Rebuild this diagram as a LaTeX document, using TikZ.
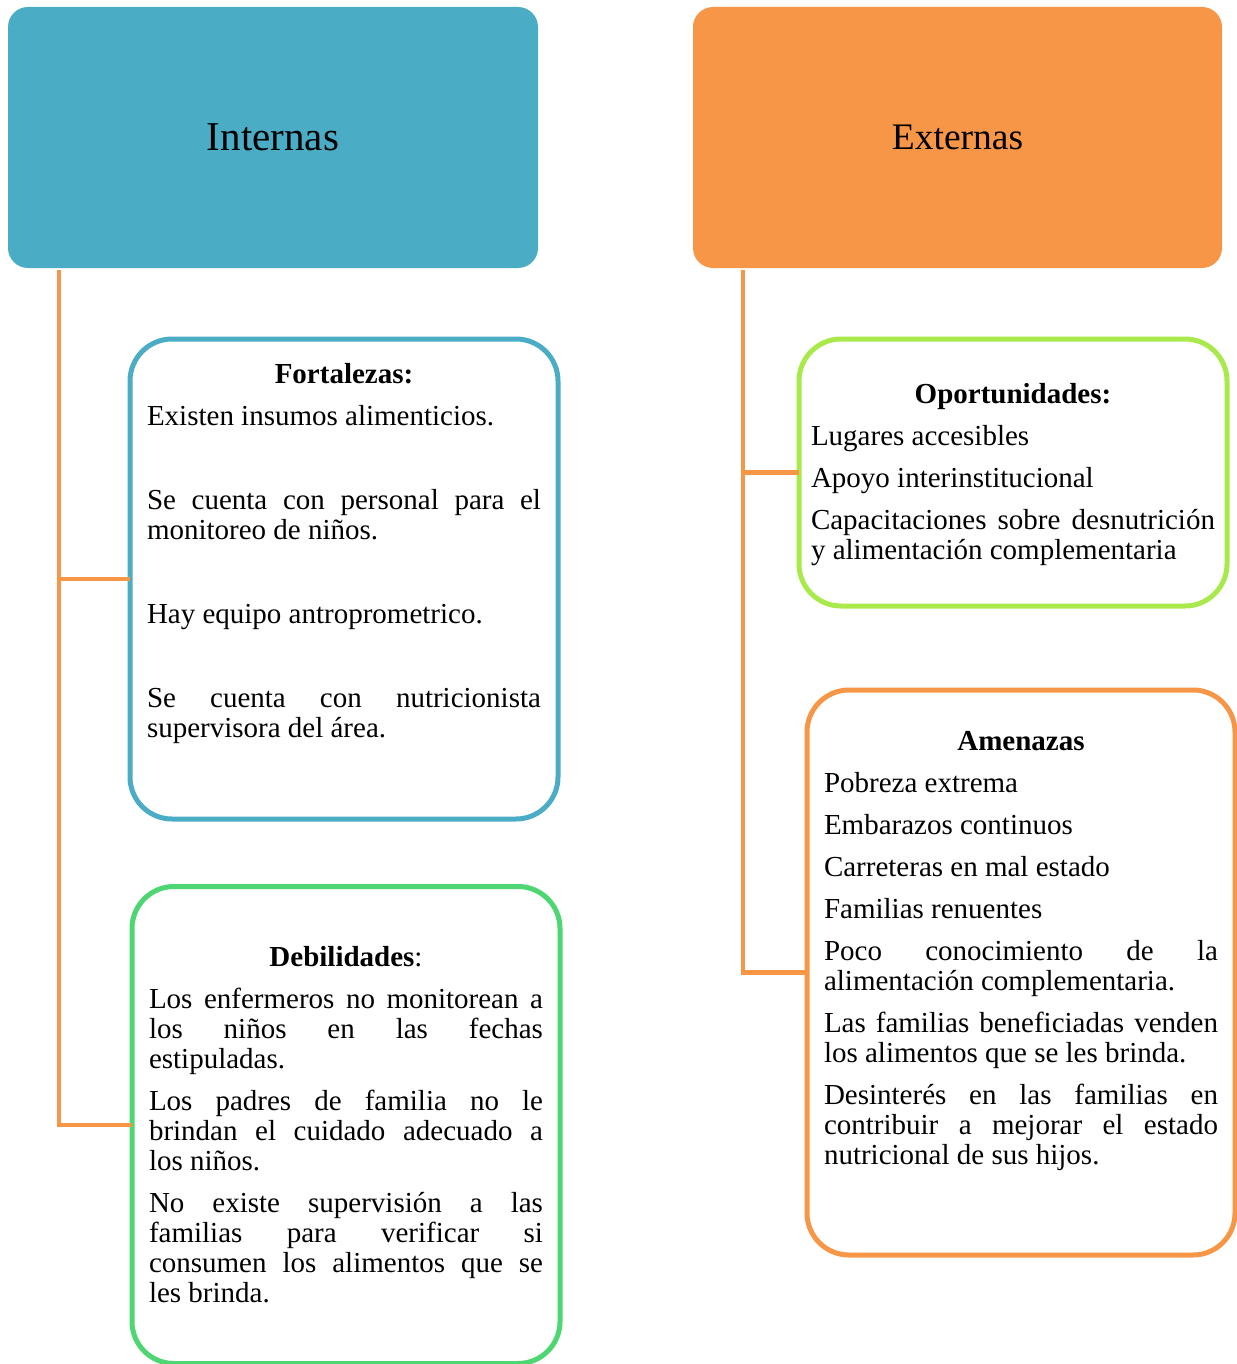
\documentclass[tikz,border=0pt]{standalone}
\usepackage{fontspec}
\setmainfont{Liberation Serif}
\hyphenpenalty=10000
\exhyphenpenalty=10000
\begin{document}
\begin{tikzpicture}[x=1pt,y=-1pt,line cap=rect,
  titulo/.style={rounded corners=20, inner sep=0, outer sep=0, font=\fontsize{37.5pt}{40pt}\selectfont},
  cuadro/.style={rounded corners=42, line width=5pt, inner sep=0, outer sep=0},
  texto/.style={inner sep=0, outer sep=0, anchor=base west, align=justify, text width=394pt,
    font=\fontsize{29pt}{30pt}\selectfont, execute at begin node={\setlength{\parskip}{12pt}}},
  rama/.style={line width=4.5pt, custcol_f7_96_46, line cap=butt}]
\useasboundingbox (0,0) rectangle (1236,1364);
\definecolor{custcol_4b_ac_c6}{RGB}{75, 172, 198}
\definecolor{custcol_f7_96_46}{RGB}{247, 150, 70}
\definecolor{custcol_4d_d6_72}{RGB}{77, 214, 114}
\definecolor{custcol_a9_e9_4b}{RGB}{169, 233, 75}
% cabeceras
\node[titulo, fill=custcol_4b_ac_c6, minimum width=530, minimum height=261, font=\fontsize{41pt}{44pt}\selectfont] (internas) at (273,137.5) {Internas};
\node[titulo, fill=custcol_f7_96_46, minimum width=529, minimum height=261] (externas) at (957.5,137.5) {Externas};
% cuadros
\node[cuadro, draw=custcol_4b_ac_c6, minimum width=428, minimum height=480] (fort) at (344,579) {};
\node[cuadro, draw=custcol_4d_d6_72, minimum width=428, minimum height=477] (deb) at (346,1125) {};
\node[cuadro, draw=custcol_a9_e9_4b, minimum width=428, minimum height=267] (oport) at (1013,472.5) {};
\node[cuadro, draw=custcol_f7_96_46, minimum width=428, minimum height=565] (amen) at (1021,972.5) {};
% conectores
\coordinate (intRaiz) at (59,270);
\coordinate (extRaiz) at (743,270);
\draw[rama] (intRaiz) |- (deb.west);
\draw[rama] (intRaiz |- fort.west) -- (fort.west);
\draw[rama] (extRaiz) |- (amen.west);
\draw[rama] (extRaiz |- oport.west) -- (oport.west);
% textos
\node[texto] (fortTxt) at (147,383) {{\centering\textbf{Fortalezas:}\par}
Existen insumos alimenticios.\par\mbox{}\par
Se cuenta con personal para el\linebreak monitoreo de niños.\par\mbox{}\par
Hay equipo antroprometrico.\par\mbox{}\par
Se cuenta con nutricionista\linebreak supervisora del área.};
\node[texto] (debTxt) at (149,966) {{\centering\textbf{Debilidades}:\par}
Los enfermeros no monitorean a\linebreak los niños en las fechas\linebreak estipuladas.\par
Los padres de familia no le\linebreak brindan el cuidado adecuado a\linebreak los niños.\par
No existe supervisión a las\linebreak familias para verificar si\linebreak consumen los alimentos que se\linebreak les brinda.};
\node[texto, text width=404pt] (oportTxt) at (811,403) {{\centering\textbf{Oportunidades:}\par}
Lugares accesibles\par
Apoyo interinstitucional\par
Capacitaciones sobre desnutrición\linebreak y alimentación complementaria};
\node[texto] (amenTxt) at (824,750) {{\centering\textbf{Amenazas}\par}
Pobreza extrema\par
Embarazos continuos\par
Carreteras en mal estado\par
Familias renuentes\par
Poco conocimiento de la\linebreak alimentación complementaria.\par
Las familias beneficiadas venden\linebreak los alimentos que se les brinda.\par
Desinterés en las familias en\linebreak contribuir a mejorar el estado\linebreak nutricional de sus hijos.};
\end{tikzpicture}
\end{document}
